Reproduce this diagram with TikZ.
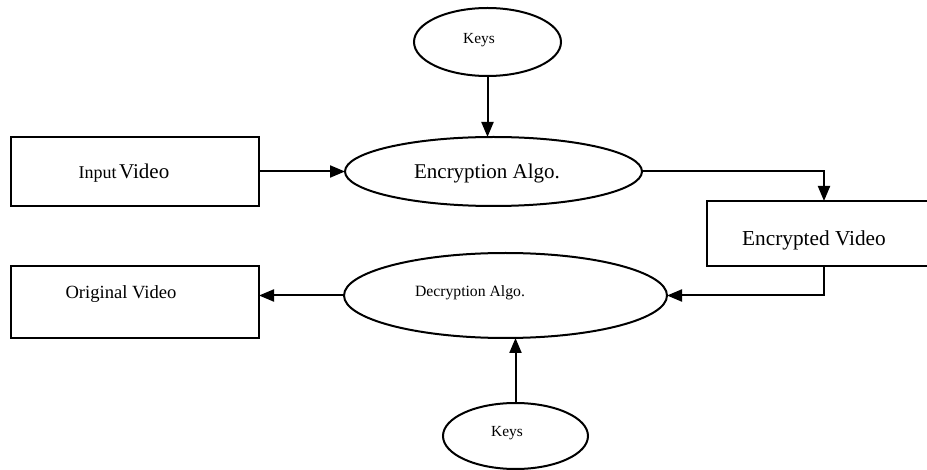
\documentclass[tikz,border=0pt]{standalone}
\usepackage{fontspec}
\setmainfont{Liberation Serif}
\usetikzlibrary{shapes.geometric,arrows.meta}
\begin{document}
\begin{tikzpicture}[x=1pt,y=-1pt,
  shp/.style={draw,line width=2pt,inner sep=0pt,outer sep=0pt},
  boxs/.style={shp,rectangle,anchor=north west},
  ell/.style={shp,ellipse},
  txt/.style={inner sep=0pt,outer sep=0pt,anchor=center},
  conn/.style={line width=2pt,-{Triangle[length=15pt,width=12pt]}}]
\useasboundingbox (0,0) rectangle (927,470);
\clip (0,0) rectangle (927,470);
% shapes
\node[ell,minimum width=147pt,minimum height=68pt] (keysA) at (487.5,42) {};
\node[ell,minimum width=297pt,minimum height=69pt] (enc) at (493.5,171.5) {};
\node[boxs,minimum width=248pt,minimum height=69pt] (input) at (11,137) {};
\node[boxs,minimum width=234pt,minimum height=65pt] (encv) at (707,201) {};
\node[ell,minimum width=323pt,minimum height=85pt] (dec) at (505.5,295.5) {};
\node[boxs,minimum width=248pt,minimum height=72pt] (orig) at (11,266) {};
\node[ell,minimum width=145pt,minimum height=66pt] (keysB) at (515.5,436) {};
% texts
\node[txt,font=\fontsize{15.4}{17}\selectfont] (tkA) at (479,40) {Keys};
\node[txt,font=\fontsize{21}{24}\selectfont] (tenc) at (487,173) {Encryption Algo.};
\node[txt] (tin) at (124,173) {{\fontsize{18}{20}\selectfont Input} {\fontsize{21}{24}\selectfont Video}};
\node[txt,font=\fontsize{21.3}{24}\selectfont] (tencv) at (814,240) {Encrypted Video};
\node[txt,font=\fontsize{15.7}{18}\selectfont] (tdec) at (470,293) {Decryption Algo.};
\node[txt,font=\fontsize{18.6}{21}\selectfont] (torig) at (121,294) {Original Video};
\node[txt,font=\fontsize{15.4}{17}\selectfont] (tkB) at (507,433) {Keys};
% connectors
\draw[conn] (keysA.south) -- (keysA.south |- enc.north);
\draw[conn] (input.east) -- (input.east -| enc.west);
\draw[conn] (enc.east) -| (encv.north);
\draw[conn] (encv.south) |- (dec.east);
\draw[conn] (dec.west) -- (dec.west -| orig.east);
\draw[conn] (keysB.north) -- (keysB.north |- dec.south);
\end{tikzpicture}
\end{document}
